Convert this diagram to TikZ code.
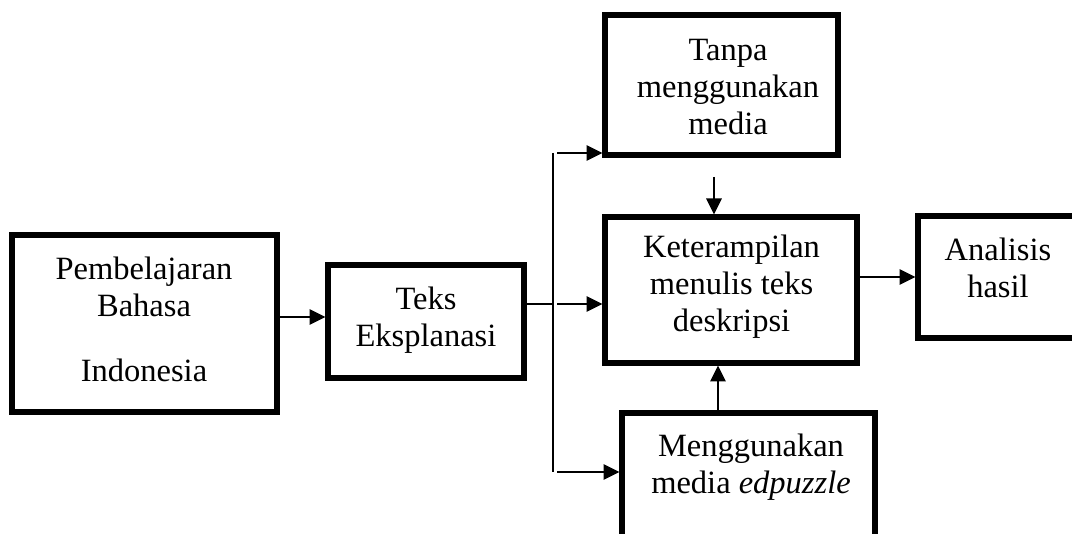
\documentclass[tikz,border=0pt]{standalone}
\usepackage{fontspec}
\setmainfont{Liberation Serif}
\usetikzlibrary{arrows.meta}
\begin{document}
\begin{tikzpicture}[x=1pt,y=-1pt,
  box/.style={draw,line width=5.5pt,rectangle,inner sep=0pt,outer sep=0pt},
  lbl/.style={align=center,inner sep=0pt,font=\fontsize{32.5}{37}\selectfont},
  conn/.style={line width=2.8pt},
  arr/.style={line width=2.8pt,-{Triangle[length=16pt,width=15pt]},shorten >=2.5pt}]
\useasboundingbox (0,0) rectangle (1072,534);
\clip (0,0) rectangle (1072,534);
% boxes
\node[box,minimum width=265pt,minimum height=177pt] (b1) at (144.5,323.5) {};
\node[box,minimum width=196pt,minimum height=113pt] (b2) at (426,321.5) {};
\node[box,minimum width=233pt,minimum height=140pt] (tanpa) at (721.5,85) {};
\node[box,minimum width=252pt,minimum height=146pt] (ket) at (731,290) {};
\node[box,minimum width=160pt,minimum height=122pt] (ana) at (998,277) {};
\node[box,minimum width=253pt,minimum height=147pt] (meng) at (748.5,486.5) {};
% texts
\node[lbl] (t1) at (144,319) {Pembelajaran\\Bahasa\\[28pt]Indonesia};
\node[lbl] (t2) at (426,320) {Teks\\Eksplanasi};
\node[lbl] (t3) at (728,87) {Tanpa\\menggunakan\\media};
\node[lbl] (t4) at (731.5,287) {Keterampilan\\menulis teks\\deskripsi};
\node[lbl] (t5) at (998,268) {Analisis\\hasil};
\node[lbl] (t6) at (751,467) {Menggunakan\\media \textit{edpuzzle}};
% junction
\coordinate (j) at (553,304);
\coordinate (jt) at (553,153);
\coordinate (jb) at (553,472);
\coordinate (st) at (557,153);
\coordinate (sm) at (557,304);
\coordinate (sb) at (557,472);
\coordinate (dtop) at (714,177);
% connectors
\draw[arr] ([yshift=6.5pt]b1.east) -- ([yshift=6.5pt]b1.east -| b2.west);
\draw[conn] ([yshift=17.5pt]b2.east) -- (j);
\draw[conn] (jt) -- (jb);
\draw[arr] (st) -- (st -| tanpa.west);
\draw[arr] (sm) -- (sm -| ket.west);
\draw[arr] (sb) -- (sb -| meng.west);
\draw[arr] (dtop) -- (dtop |- ket.north);
\draw[arr] (meng.north -| 718,0) -- (ket.south -| 718,0);
\draw[arr] ([yshift=13pt]ket.east) -- ([yshift=13pt]ket.east -| ana.west);
\end{tikzpicture}
\end{document}
